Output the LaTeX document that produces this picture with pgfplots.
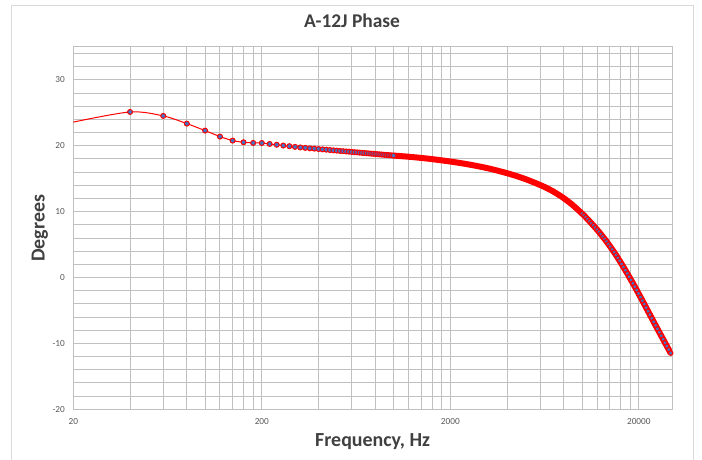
\documentclass[border=0pt]{standalone}
\usepackage{fontspec}
\setmainfont{Carlito}
\usepackage{pgfplots}
\pgfplotsset{compat=1.18}
\usepackage{pgfplotstable}
\definecolor{ptblue}{RGB}{68,114,196}
\definecolor{gridgray}{RGB}{192,192,192}
\definecolor{framegray}{RGB}{217,217,217}
\definecolor{labelgray}{RGB}{64,64,64}
\definecolor{tickgray}{RGB}{89,89,89}

% phase, degrees -- 20 Hz steps at the low end
\pgfplotstableread{
f v
20 23.6
40 25.14
60 24.54
80 23.37
100 22.31
120 21.40
140 20.79
160 20.54
180 20.44
200 20.42
220 20.28
240 20.16
260 20.04
280 19.94
300 19.84
320 19.75
340 19.69
360 19.62
380 19.57
400 19.51
420 19.46
440 19.41
460 19.36
480 19.31
500 19.27
520 19.22
540 19.18
560 19.14
580 19.11
600 19.07
620 19.03
640 19.00
660 18.97
680 18.93
700 18.90
720 18.87
740 18.84
760 18.81
780 18.79
800 18.76
820 18.73
840 18.70
860 18.68
880 18.65
900 18.63
920 18.61
940 18.58
960 18.56
980 18.54
1000 18.52
}\lowdata

% upper range, dense part of the curve
\pgfplotstableread{
f v
1000 18.52
1122 18.41
1259 18.29
1413 18.15
1585 17.99
1778 17.81
1995 17.62
2239 17.40
2512 17.16
2818 16.89
3162 16.59
3548 16.24
3981 15.86
4467 15.43
5012 14.94
5623 14.38
6310 13.76
7079 13.02
7943 12.11
8913 11.01
10000 9.71
10233 9.43
10471 9.14
10715 8.84
10965 8.53
11220 8.22
11482 7.90
11749 7.58
12023 7.25
12303 6.91
12589 6.56
12882 6.20
13183 5.84
13490 5.46
13804 5.07
14125 4.67
14454 4.26
14791 3.84
15136 3.41
15488 2.96
15849 2.51
16218 2.05
16596 1.58
16982 1.10
17378 0.61
17783 0.12
18197 -0.38
18621 -0.88
19055 -1.39
19498 -1.91
19953 -2.44
20417 -2.97
20893 -3.50
21380 -4.04
21878 -4.58
22387 -5.12
22909 -5.65
23442 -6.19
23988 -6.73
24547 -7.26
25119 -7.79
25704 -8.32
26303 -8.85
26915 -9.37
27542 -9.90
28184 -10.42
28840 -10.94
29512 -11.47
}\highdata

\begin{document}
\begin{tikzpicture}
\useasboundingbox (0,0) rectangle (702bp,460bp);
\draw[framegray, line width=1bp] (11.5bp,0) -- (11.5bp,454bp) -- (693bp,454bp) -- (693bp,0);
\begin{axis}[
    at={(73.3bp,50.7bp)}, anchor=south west,
    scale only axis,
    width=598.7bp, height=362.3bp,
    xmode=log,
    xmin=20, xmax=30000,
    ymin=-20, ymax=35,
    xtick={20,200,2000,20000},
    xticklabels={20,200,2000,20000},
    minor xtick={40,60,80,100,120,140,160,180,400,600,800,1000,1200,1400,1600,1800,4000,6000,8000,10000,12000,14000,16000,18000},
    ytick={-20,-10,0,10,20,30},
    yticklabels={-20,-10,0,10,20,30},
    minor ytick={-18,-16,...,34},
    grid=both,
    major grid style={gridgray, line width=1bp},
    minor grid style={gridgray, line width=1bp},
    axis line style={gridgray, line width=1bp},
    tick style={draw=none},
    /pgf/number format/assume math mode=true,
    ticklabel style={font=\fontsize{9.3}{11}\selectfont, text=tickgray},
    xticklabel style={anchor=north, inner sep=0pt, yshift=-9.3bp},
    yticklabel style={anchor=east, inner sep=0pt, xshift=-8.3bp},
    title={A-12J Phase},
    title style={at={(axis description cs:0.4655,1.0375)}, anchor=base,
        font=\fontsize{19.5}{22}\selectfont\bfseries, text=labelgray},
    xlabel={Frequency, Hz},
    xlabel style={at={(axis description cs:0.5,-0.1013)}, anchor=base,
        font=\fontsize{20}{22}\selectfont\bfseries, text=labelgray},
    ylabel={Degrees},
    ylabel style={at={(axis description cs:-0.0481,0.5)}, anchor=base, rotate=0,
        font=\fontsize{20}{22}\selectfont\bfseries, text=labelgray},
]
\addplot[red, line width=1bp, smooth, no markers] table[x=f, y=v] {\lowdata};
\addplot[only marks, mark=*, mark size=2.5bp,
    mark options={fill=ptblue, draw=red, line width=1bp},
    skip coords between index={0}{1}] table[x=f, y=v] {\lowdata};
\addplot[red, line width=6bp, smooth, no markers] table[x=f, y=v] {\highdata};
\addplot[only marks, mark=*, mark size=2.2bp,
    mark options={fill=ptblue, draw=red, line width=1.2bp},
    skip coords between index={0}{20}] table[x=f, y=v] {\highdata};
\end{axis}
\end{tikzpicture}
\end{document}
